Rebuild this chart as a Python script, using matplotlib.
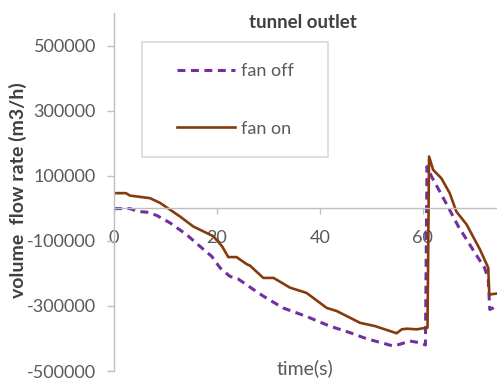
import matplotlib
matplotlib.use("Agg")
import matplotlib.pyplot as plt
from matplotlib.ticker import FixedLocator
from matplotlib.patches import Rectangle

plt.rcParams['font.family'] = ['Lato', 'DejaVu Sans']

# fan on (solid)
t_on = [0, 2.3, 3.1, 7, 9, 10.9, 12.8, 15.4, 18, 19.3, 21, 22.2, 23.8, 25.8, 26.4, 29, 31,
        34.2, 37.4, 41.3, 43.3, 47.8, 50.7, 54.9, 55.9, 56.9, 58.8, 60.7, 60.9, 61.2,
        62.0, 63.6, 65.2, 66.5, 68.5, 71.1, 72.7, 72.9, 74.4]
v_on = [46500, 46500, 39000, 31000, 16000, -4600, -25000, -56000, -76000, -86000, -117000,
        -150000, -150000, -172000, -176000, -214000, -214000, -244000, -260000, -306000,
        -316000, -352000, -362000, -384000, -372000, -370000, -372000, -367000, -367000, 159000,
        118000, 92000, 47000, -10000, -50000, -127000, -183000, -265000, -262000]

# fan off (dashed)
t_off = [0, 3.1, 4.7, 6.4, 8.3, 10.9, 14.1, 16.7, 19, 20.6, 22.5, 24.1, 26.2, 29, 32.8,
         37.5, 41.9, 45.8, 49.1, 54.2, 55.5, 57.5, 59.4, 60.5, 60.8, 61.7, 63.3, 65.2, 66.9,
         68.5, 70.1, 72, 72.7, 73.0, 74.4]
v_off = [-1000, -1000, -10000, -12000, -22000, -45000, -81000, -117000, -148000, -183000,
         -209000, -217000, -240000, -270000, -306000, -333000, -362000, -382000, -401000,
         -423000, -418000, -408000, -413000, -420000, 128000, 97000, 51000, -5000, -56000,
         -96000, -137000, -183000, -219000, -311000, -301000]

x_ticks = [0, 20, 40, 60]
y_ticks = [-500000, -300000, -100000, 100000, 300000, 500000]

W, H = 497, 381
fig = plt.figure(figsize=(W / 100, H / 100), dpi=100)
ax = fig.add_axes([114 / W, 1 - 371 / H, (497 - 114) / W, (371 - 13) / H])
ax.set_xlim(0, 74.4)
ax.set_ylim(-500000, 600000)

ax.plot(t_off, v_off, color='#7030A0', lw=2.2, linestyle=(0, (2.6, 1.8)), label='fan off',
        dash_capstyle='butt')
ax.plot(t_on, v_on, color='#843C0C', lw=1.9, label='fan on')

for s in ['top', 'right']:
    ax.spines[s].set_visible(False)
ax.spines['bottom'].set_position(('data', 0))
for s in ['left', 'bottom']:
    ax.spines[s].set_color('#BFBFBF')
    ax.spines[s].set_linewidth(1.0)

ax.xaxis.set_major_locator(FixedLocator(x_ticks))
ax.yaxis.set_major_locator(FixedLocator(y_ticks))
ax.set_xticklabels([str(v) for v in x_ticks])
ax.set_yticklabels([str(v) for v in y_ticks])
ax.tick_params(axis='both', colors='#BFBFBF', labelcolor='#595959', labelsize=13, width=1)
ax.tick_params(axis='x', direction='out', length=4, pad=12)
ax.tick_params(axis='y', direction='out', length=5, pad=8)

fig.text(303 / W, 1 - 22 / H, 'tunnel outlet', ha='center', va='center', fontsize=13.5,
         fontweight='bold', color='#404040')
fig.text(18 / W, 1 - 190 / H, 'volume  flow rate (m3/h)', rotation=90, ha='center',
         va='center', fontsize=14, color='#404040', fontweight='bold')
fig.text(305 / W, 1 - 368 / H, 'time(s)', ha='center', va='center', fontsize=14,
         color='#595959')

# legend frame
fig.patches.append(Rectangle((142 / W, 1 - 157 / H), (328 - 142) / W, (157 - 42) / H,
                             transform=fig.transFigure, fill=False, edgecolor='#D9D9D9',
                             linewidth=1.2, zorder=5))
leg = ax.legend(loc='center left',
                bbox_to_anchor=((177 - 114) / (497 - 114), (371 - 100) / (371 - 13)),
                frameon=False, fontsize=13, labelcolor='#595959',
                handlelength=3.2, handletextpad=0.33, labelspacing=2.3, borderpad=0,
                borderaxespad=0)

fig.savefig('out.png', dpi=100)
